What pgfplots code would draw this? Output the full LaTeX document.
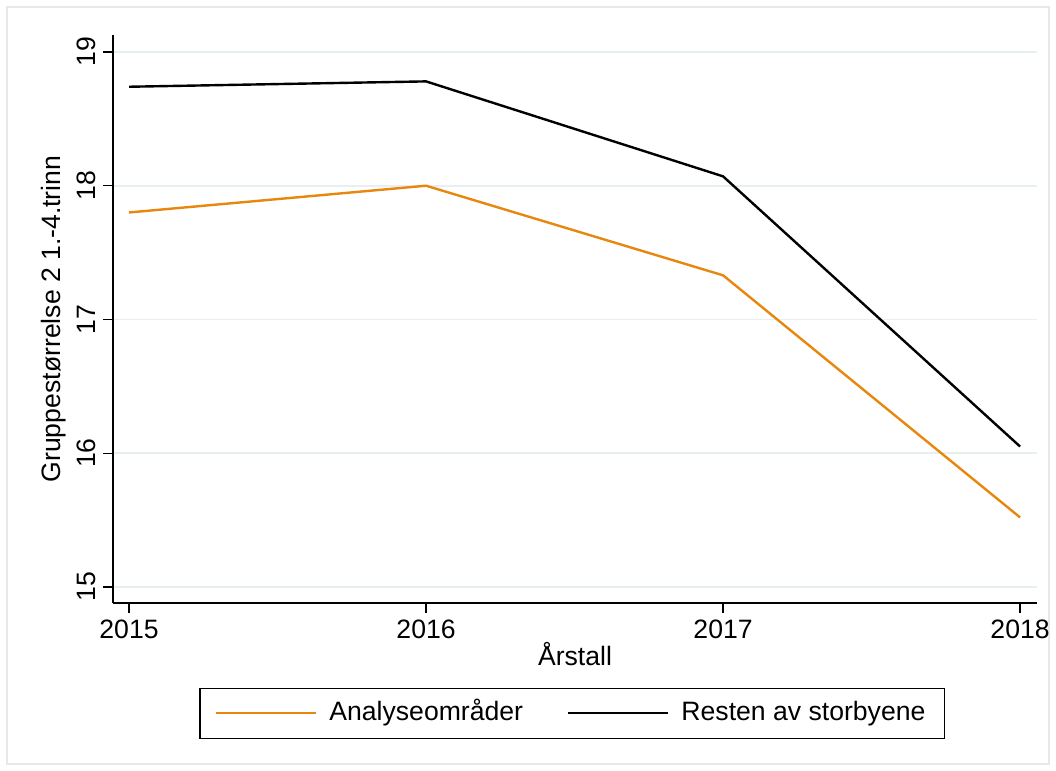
\documentclass[border=0pt]{standalone}
\usepackage{pgfplots}
\pgfplotsset{compat=1.18}
\usepackage{fontspec}
\setmainfont{Liberation Sans}
\definecolor{sorange}{HTML}{E8870E}
\definecolor{sgrid}{HTML}{E6F0F2}
\definecolor{sframe}{HTML}{E8E8E8}
\begin{document}
\begin{tikzpicture}[x=1pt,y=1pt]
\fill[white] (-56.5,-84) rectangle (471.5,301.5);
\draw[sframe, line width=0.6pt] (-53,-80.5) rectangle (468,298);
\useasboundingbox (-56.5,-84) rectangle (471.5,301.5);
\begin{axis}[
  at={(0,0)}, anchor=south west,
  scale only axis, width=462pt, height=284pt,
  xmin=2014.946, xmax=2018.057, ymin=14.88, ymax=19.127,
  axis x line*=bottom, axis y line*=left,
  axis line style={black, line width=0.6pt, -},
  xtick={2015,2016,2017,2018},
  ytick={15,16,17,18,19},
  xticklabel style={/pgf/number format/1000 sep={}},
  tick align=outside, major tick length=5pt,
  tick style={black, line width=0.6pt},
  ymajorgrids, grid style={sgrid, line width=0.9pt},
  /pgf/number format/assume math mode=true,
  ticklabel style={font=\fontsize{13.3}{15}\selectfont},
  yticklabel style={rotate=90, anchor=south, xshift=0pt},
  label style={font=\fontsize{13.3}{15}\selectfont},
  xlabel={Årstall},
  ylabel={Gruppestørrelse 2 1.-4.trinn},
  xlabel style={yshift=5pt},
  ylabel style={yshift=-1.5pt},
  legend columns=2,
  legend style={at={(0.497,-0.194)}, anchor=center, draw=black, line width=0.6pt,
    font=\fontsize{13.3}{15}\selectfont, inner xsep=7.5pt, inner ysep=4pt,
    nodes={text height=10pt, text depth=3pt},
    /tikz/every odd column/.append style={column sep=4pt},
    /tikz/every even column/.append style={column sep=20pt}},
  legend image code/.code={\draw[#1, line width=1.2pt] (0pt,0pt) -- (50pt,0pt);},
]
\addplot[sorange, line width=1.2pt] coordinates {(2015,17.80) (2016,18.00) (2017,17.33) (2018,15.52)};
\addlegendentry{Analyseområder}
\addplot[black, line width=1.2pt] coordinates {(2015,18.74) (2016,18.78) (2017,18.07) (2018,16.05)};
\addlegendentry{Resten av storbyene}
\end{axis}
\end{tikzpicture}
\end{document}
